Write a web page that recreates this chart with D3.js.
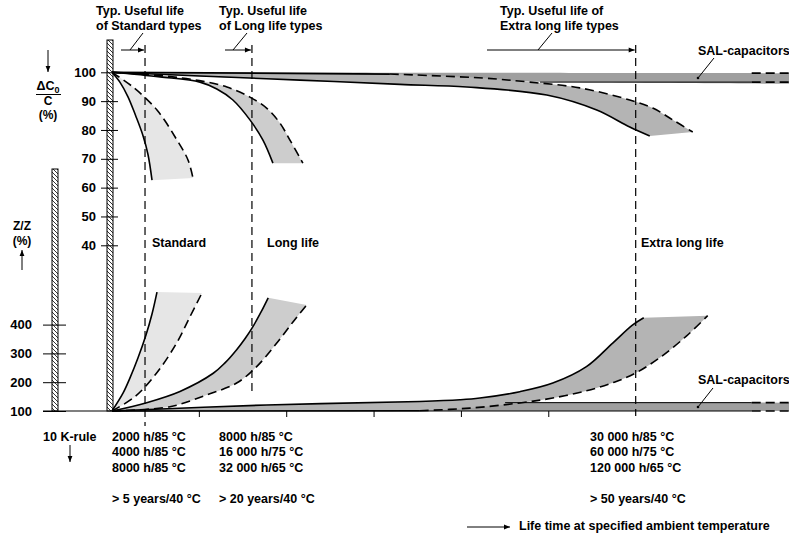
<!DOCTYPE html>
<html>
<head>
<meta charset="utf-8">
<title>capacitor life time</title>
<script src="https://d3js.org/d3.v7.min.js"></script>
<style>
  body { margin: 0; background: #fff; }
  text { font-family: "Liberation Sans", Arial, sans-serif; font-weight: bold; font-size: 12.5px; fill: #000; }
</style>
</head>
<body>
<div id="chart"></div>
<script>
// values: x = relative life (tick units), y = percent
var capTicks = [100, 90, 80, 70, 60, 50, 40];
var impTicks = [100, 200, 300, 400];
var timeTicks = [1, 2, 3, 4, 5];
var usefulLife = [0.378, 1.602, 5.995]; // standard, long life, extra long life

// capacitance change (upper part)
var stdCapSolid  = [[0,100],[0.092,96.5],[0.183,91.5],[0.27,85],[0.355,78],[0.412,71.5],[0.458,62.6]];
var stdCapDashed = [[0,100],[0.24,94.9],[0.515,86.9],[0.744,76.5],[0.87,69.6],[0.927,63.3]];
var longCapSolid  = [[0,100],[0.55,98.4],[1.007,96.6],[1.2,94.2],[1.384,90.4],[1.579,83.5],[1.728,76.5],[1.842,68.5]];
var longCapDashed = [[0,100],[0.6,98.7],[1.0,97.1],[1.316,94.9],[1.579,91.4],[1.773,87.5],[1.922,82.4],[2.037,76.5],[2.185,68.5]];
var xlCapSolid  = [[0,100],[1.007,98.7],[2.151,97.3],[3.295,95.8],[4.062,94.9],[4.977,92.1],[5.549,86.9],[5.927,81.0],[6.156,77.9]];
var xlCapDashed = [[0,100],[3.181,99.4],[4.245,98.0],[4.783,96.6],[5.355,94.6],[5.927,90.4],[6.19,87.6],[6.419,83.5],[6.648,79.3]];
var salCapTop    = [[0,100],[7.75,99.7]];
var salCapBottom = [[0,100],[1.5,98.0],[4,97.0],[7.75,96.0]];

// impedance change (lower part)
var stdImpSolid  = [[0,100],[0.126,162],[0.206,215],[0.297,284],[0.389,364],[0.458,437],[0.515,513]];
var stdImpDashed = [[0,100],[0.263,150],[0.511,232],[0.74,336],[0.892,427],[1.03,510]];
var longImpSolid  = [[0,100],[0.397,129],[0.778,168],[1.159,231],[1.293,267],[1.427,313],[1.522,351],[1.617,395],[1.705,443],[1.788,493]];
var longImpDashed = [[0,100],[0.664,115],[1.084,156],[1.427,197],[1.656,254],[1.884,335],[2.074,410],[2.228,468]];
var xlImpSolid  = [[0,100],[1.77,121],[3.524,133],[3.982,139],[4.211,145],[4.668,167],[5.046,197],[5.431,254],[5.732,336],[5.961,399],[6.087,424]];
var xlImpDashed = [[0,100],[3.524,101],[4.096,110],[4.668,128],[5.046,145],[5.431,170],[5.75,200],[5.995,232],[6.27,285],[6.575,360],[6.819,431]];
var salImpTop    = [[0,100],[1.77,113],[3.6,125],[4.5,129],[7.75,129]];
var salImpBottom = [[0,100],[7.75,100]];

var width = 789, height = 535;
var svg = d3.select("#chart").append("svg")
    .attr("width", width)
    .attr("height", height);

var x  = d3.scaleLinear().domain([0, 7.75]).range([112, 789]);
var yC = d3.scaleLinear().domain([40, 100]).range([245.3, 72.3]);
var yZ = d3.scaleLinear().domain([100, 400]).range([411, 324.6]);

var defs = svg.append("defs");
var pat = defs.append("pattern").attr("id", "hatch")
    .attr("patternUnits", "userSpaceOnUse").attr("width", 4).attr("height", 4);
pat.append("rect").attr("width", 4).attr("height", 4).attr("fill", "#fff");
pat.append("path").attr("d", "M-1,-1L5,5M-1,3L1,5M3,-1L5,1")
    .attr("stroke", "#000").attr("stroke-width", 0.8);

defs.append("marker").attr("id", "arr")
    .attr("viewBox", "0 0 10 10").attr("refX", 10).attr("refY", 5)
    .attr("markerUnits", "userSpaceOnUse")
    .attr("markerWidth", 9).attr("markerHeight", 6).attr("orient", "auto")
  .append("path").attr("d", "M0,1L10,5L0,9Z").attr("fill", "#000");

function line(y) {
  return d3.line().x(function(d) { return x(d[0]); }).y(function(d) { return y(d[1]); })
    .curve(d3.curveCatmullRom.alpha(0.5));
}

// sample a smooth curve so two of them can be joined into a band
var tmp = svg.append("path").attr("visibility", "hidden");
function sample(pts, y) {
  tmp.attr("d", line(y)(pts));
  var n = tmp.node(), L = n.getTotalLength();
  return d3.range(81).map(function(i) {
    var p = n.getPointAtLength(L * i / 80);
    return [p.x, p.y];
  });
}
function band(a, b, y, color) {
  var pts = sample(a, y).concat(sample(b, y).reverse());
  svg.append("path").attr("d", d3.line()(pts) + "Z").attr("fill", color);
}

// hatched bars
svg.append("rect").attr("x", 107).attr("y", 40).attr("width", 6).attr("height", 371)
    .attr("fill", "url(#hatch)").attr("stroke", "#000").attr("stroke-width", 1);
svg.append("rect").attr("x", 52).attr("y", 169).attr("width", 6).attr("height", 242)
    .attr("fill", "url(#hatch)").attr("stroke", "#000").attr("stroke-width", 1);

// bands
band(stdCapSolid, stdCapDashed, yC, "#e6e6e6");
band(longCapSolid, longCapDashed, yC, "#cdcdcd");
band(salCapTop, salCapBottom, yC, "#9f9f9f");
band(xlCapDashed, xlCapSolid, yC, "#b4b4b4");

band(stdImpSolid, stdImpDashed, yZ, "#e6e6e6");
band(longImpSolid, longImpDashed, yZ, "#cdcdcd");
band(salImpTop, salImpBottom, yZ, "#9f9f9f");
band(xlImpSolid, xlImpDashed, yZ, "#b4b4b4");

// curves
function curve(pts, y, dashed, w) {
  svg.append("path").attr("d", line(y)(pts)).attr("fill", "none")
    .attr("stroke", "#000").attr("stroke-width", w || 1.6)
    .attr("stroke-dasharray", dashed ? "9,5" : null);
}
curve(stdCapSolid, yC); curve(stdCapDashed, yC, true);
curve(longCapSolid, yC); curve(longCapDashed, yC, true);
curve(xlCapSolid, yC); curve(xlCapDashed.slice(1), yC, true);
curve(xlCapDashed.slice(0, 2), yC, false, 1.8);
curve([[4.9, 96.6], [7.323, 96.6]], yC, false, 1);
curve([[7.323, 96.6], [7.75, 96.6]], yC, true);
curve([[7.323, 99.7], [7.75, 99.7]], yC, true);

curve(stdImpSolid, yZ); curve(stdImpDashed, yZ, true);
curve(longImpSolid, yZ); curve(longImpDashed, yZ, true);
curve(xlImpSolid, yZ); curve(xlImpDashed.slice(1), yZ, true);
curve(xlImpDashed.slice(0, 2), yZ, false, 1.4);
curve([[4.5, 129], [7.323, 129]], yZ, false, 1);
curve([[7.323, 129], [7.75, 129]], yZ, true);
curve([[7.323, 100], [7.75, 100]], yZ, true);

// useful life lines
var lifeEnds = [426, 396, 416];
usefulLife.forEach(function(u, i) {
  svg.append("line").attr("x1", x(u)).attr("x2", x(u)).attr("y1", 45).attr("y2", lifeEnds[i])
    .attr("stroke", "#000").attr("stroke-width", 1.2).attr("stroke-dasharray", "8,5");
});

// axes
var capAxis = svg.append("g").attr("transform", "translate(118,0)")
    .call(d3.axisLeft(yC).tickValues(capTicks).tickSize(17).tickPadding(5));
capAxis.select(".domain").remove();
var impAxis = svg.append("g").attr("transform", "translate(66,0)")
    .call(d3.axisLeft(yZ).tickValues(impTicks).tickSize(23).tickPadding(11));
impAxis.select(".domain").remove();
svg.selectAll(".tick text").style("font-size", "13px");

svg.append("line").attr("x1", 43).attr("x2", x(7.323)).attr("y1", 411).attr("y2", 411)
    .attr("stroke", "#000").attr("stroke-width", 1.2);
svg.selectAll(".xtick").data(timeTicks).enter().append("line")
    .attr("x1", function(d) { return x(d); }).attr("x2", function(d) { return x(d); })
    .attr("y1", 411).attr("y2", 417).attr("stroke", "#000");

// arrows and leaders
function seg(x1, y1, x2, y2, arrow) {
  svg.append("line").attr("x1", x1).attr("y1", y1).attr("x2", x2).attr("y2", y2)
    .attr("stroke", "#000").attr("stroke-width", 1)
    .attr("marker-end", arrow ? "url(#arr)" : null);
}
seg(121, 50, x(usefulLife[0]) - 1, 50, true);
seg(225, 50, x(usefulLife[1]) - 1, 50, true);
seg(487, 50, x(usefulLife[2]) - 1, 50, true);
seg(143, 33, 130, 50); seg(247, 33, 233, 50); seg(552, 33, 538, 50);
seg(714, 58, 698, 78); seg(713, 388, 698, 407);
svg.append("circle").attr("cx", 698).attr("cy", 78).attr("r", 1.3);
svg.append("circle").attr("cx", 698).attr("cy", 407).attr("r", 1.3);
seg(48, 50, 48, 72, true);
seg(22, 270, 22, 250, true);
seg(70, 445, 70, 462, true);
seg(467, 527, 510, 527, true);

// texts
function label(t, x0, y0, anchor, size) {
  svg.append("text").attr("x", x0).attr("y", y0).attr("text-anchor", anchor || "start")
    .style("font-size", size || null).text(t);
}
label("Typ. Useful life", 96, 14.5); label("of Standard types", 96, 30);
label("Typ. Useful life", 219, 14.5); label("of Long life types", 219, 30);
label("Typ. Useful life of", 500, 14.5); label("Extra long life types", 500, 30);
label("SAL-capacitors", 698, 55); label("SAL-capacitors", 698, 384);
label("Standard", 152, 247); label("Long life", 267, 247); label("Extra long life", 641, 247);

var dc = svg.append("text").attr("x", 48).attr("y", 90).attr("text-anchor", "middle");
dc.append("tspan").text("\u0394C");
dc.append("tspan").attr("dy", 3).style("font-size", "9px").text("0");
seg(36, 94.5, 61, 94.5);
label("C", 48, 105, "middle", "12px"); label("(%)", 48, 119, "middle", "12px");
label("Z/Z", 22, 230, "middle", "12px"); label("(%)", 22, 245, "middle", "12px");

label("10 K-rule", 43, 441);
var rows = [441, 456, 471.5, 502.5];
[["2000 h/85 \u00b0C", "4000 h/85 \u00b0C", "8000 h/85 \u00b0C", "> 5 years/40 \u00b0C", 112],
 ["8000 h/85 \u00b0C", "16 000 h/75 \u00b0C", "32 000 h/65 \u00b0C", "> 20 years/40 \u00b0C", 219],
 ["30 000 h/85 \u00b0C", "60 000 h/75 \u00b0C", "120 000 h/65 \u00b0C", "> 50 years/40 \u00b0C", 590]]
  .forEach(function(col) {
    rows.forEach(function(r, i) { label(col[i], col[4], r); });
  });
label("Life time at specified ambient temperature", 519, 530);
</script>
</body>
</html>
